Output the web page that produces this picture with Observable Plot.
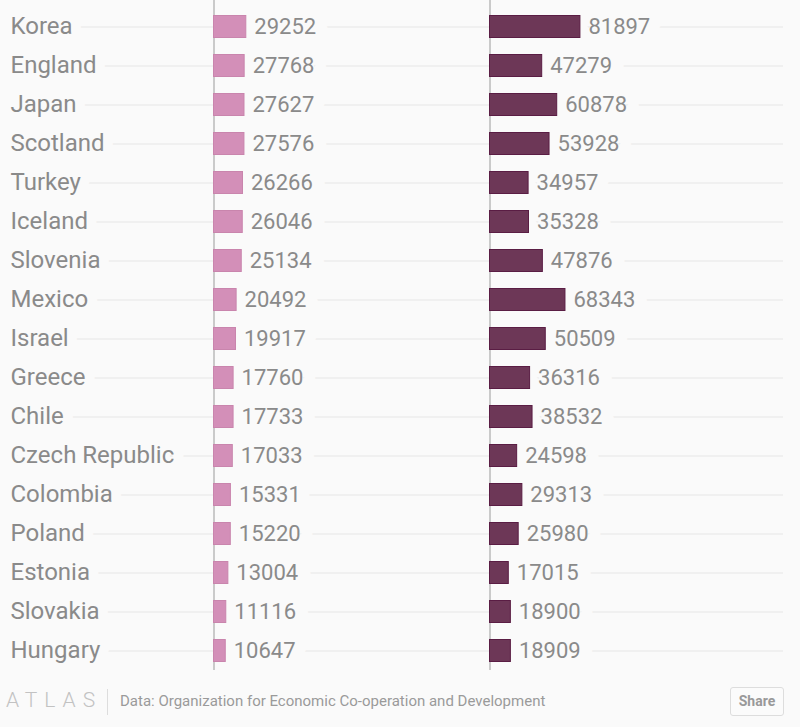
<!DOCTYPE html>
<html><head><meta charset="utf-8">
<script src="https://cdn.jsdelivr.net/npm/d3@7"></script>
<script src="https://cdn.jsdelivr.net/npm/@observablehq/plot@0.6"></script>
<style>
html,body{margin:0;padding:0;background:#fafafa;}
body{width:800px;height:727px;overflow:hidden;font-family:Roboto,"Noto Sans",sans-serif;}
#chart svg{display:block;}
#footer{position:relative;height:55px;}
#logo{position:absolute;left:6px;top:16px;font-size:21px;font-weight:300;letter-spacing:7px;color:#c2c2c2;}
#sep{position:absolute;left:107px;top:17px;width:1px;height:26px;background:#ddd;}
#src{position:absolute;left:120px;top:20px;font-size:15px;color:#9a9a9a;}
#share{position:absolute;left:730px;top:15px;width:54px;height:29px;border:1px solid #ddd;border-radius:3px;box-sizing:border-box;font-size:14px;font-weight:700;color:#999;text-align:center;line-height:27px;background:#fbfbfb;}
</style></head>
<body>
<div id="chart"></div>
<div id="footer"><div id="logo">ATLAS</div><div id="sep"></div><div id="src">Data: Organization for Economic Co-operation and Development</div><div id="share">Share</div></div>
<script>
const countries = ["Korea","England","Japan","Scotland","Turkey","Iceland","Slovenia","Mexico","Israel","Greece","Chile","Czech Republic","Colombia","Poland","Estonia","Slovakia","Hungary"];
const seriesA = [29252,27768,27627,27576,26266,26046,25134,20492,19917,17760,17733,17033,15331,15220,13004,11116,10647];
const seriesB = [81897,47279,60878,53928,34957,35328,47876,68343,50509,36316,38532,24598,29313,25980,17015,18900,18909];
const seriesNames = ["A","B"];
const colors = ["#d38fb8","#6d3757"];
const strokes = ["#c985ad","#5a1d44"];

const OFF = 250000; // offset of second column in value units
const k = 276 / OFF; // px per unit
const rows = [];
countries.forEach((c, i) => {
  rows.push({country: c, s: "A", v: seriesA[i], x1: 0, x2: seriesA[i]});
  rows.push({country: c, s: "B", v: seriesB[i], x1: OFF, x2: OFF + seriesB[i]});
});

const BG = "#fafafa";
const valueText = {y: "country", x: "x2", dx: 8, dy: -0.5, textAnchor: "start", text: d => String(d.v), fontSize: 22};

const chart = Plot.plot({
  width: 800,
  height: 672,
  marginLeft: 10,
  marginRight: 17,
  marginTop: 0,
  marginBottom: 2,
  style: {background: "transparent", fontFamily: "Roboto, sans-serif"},
  x: {domain: [-(213.5 - 10) / k, (783 - 213.5) / k], axis: null},
  y: {type: "band", domain: countries, range: [6.5, 669.5], padding: 0, axis: null},
  color: {domain: seriesNames, range: colors},
  marks: [
    Plot.ruleY(countries, {y: d => d, stroke: "#e6e6e6", strokeWidth: 1}),
    Plot.ruleX([0, OFF], {stroke: "#9a9a9a", strokeWidth: 1}),
    Plot.text(rows, {...valueText, fill: BG, stroke: BG, strokeWidth: 26, strokeLinejoin: "round"}),
    Plot.barX(rows, {y: "country", x1: "x1", x2: "x2", fill: "s", stroke: d => d.s === "A" ? strokes[0] : strokes[1], strokeWidth: 1, insetTop: 8.5, insetBottom: 8.5}),
    Plot.text(countries, {y: d => d, dy: -1, frameAnchor: "left", textAnchor: "start", text: d => d, fontSize: 24, fill: "#8a8a8a", stroke: BG, strokeWidth: 20, strokeLinejoin: "round", paintOrder: "stroke"}),
    Plot.text(rows, {...valueText, fill: "#8a8a8a"})
  ]
});
document.getElementById("chart").appendChild(chart);
</script>
</body></html>
